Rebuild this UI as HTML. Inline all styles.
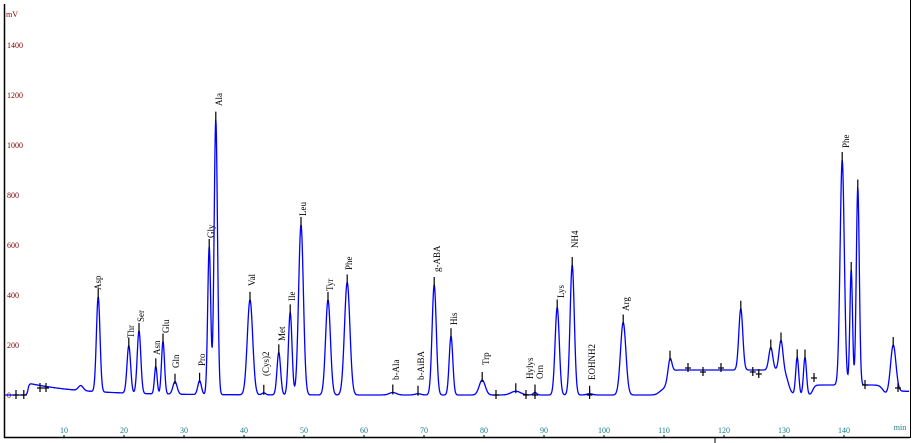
<!DOCTYPE html><html><head><style>body{margin:0;background:#fff}svg{display:block}text{font-family:"Liberation Serif",serif}</style></head><body>
<svg id="s" width="915" height="443" xmlns="http://www.w3.org/2000/svg">
<line x1="4.5" y1="4" x2="4.5" y2="438" stroke="#000" stroke-width="1.5"/>
<line x1="4" y1="437.5" x2="910" y2="437.5" stroke="#000" stroke-width="1.5"/>
<line x1="910.5" y1="0" x2="910.5" y2="438" stroke="#000" stroke-width="1"/>
<line x1="715" y1="438" x2="715" y2="443" stroke="#000"/>
<text x="6" y="17" font-size="8" fill="#800000">mV</text>
<g font-size="8" fill="#800000">
<text x="7" y="398">0</text><text x="7" y="348">200</text><text x="7" y="298">400</text><text x="7" y="248">600</text><text x="7" y="198">800</text><text x="7" y="148">1000</text><text x="7" y="98">1200</text><text x="7" y="48">1400</text></g>
<g font-size="8" fill="#1a7a8a" text-anchor="middle" id="xl"></g>
<path id="p" fill="none" stroke="#0000ff" stroke-width="1.3"/>
<g id="mk" stroke="#000" stroke-width="1.2"></g>
<g id="lb" font-size="9" fill="#000"></g>
</svg>
<script>
var X=t=>4+6*t,Y=v=>395-v*0.25;
var S=(t,a,w)=>1/(1+Math.exp(-(t-a)/w));
var pk=[[15.7,380,.3],[20.8,190,.3],[22.5,250,.3],[25.3,110,.22],[26.5,210,.25],[28.5,50,.35],[32.6,55,.3],[34.2,590,.25],[35.3,1100,.28],[41,380,.45],[43.3,8,.3],[45.8,170,.3],[47.7,330,.3],[49.5,680,.4],[54,380,.4],[57.2,450,.45],[64.8,10,.6],[69,5,.5],[71.7,440,.35],[74.5,235,.3],[79.7,60,.5],[85.3,15,.8],[88.5,10,.3],[92.2,350,.35],[94.7,520,.35],[97.6,5,.5],[103.2,290,.45],[111,60,.3],[122.8,245,.33],[127.8,90,.33],[129.5,120,.33],[132.2,150,.25],[133.5,150,.25],[139.7,900,.35],[141.2,460,.22],[142.3,790,.25],[148.2,190,.45]];
function base(t){var b=0;
 b+=45*S(t,4,0.1)*Math.exp(-Math.max(0,t-4.5)/9);
 b+=20*Math.exp(-Math.pow((t-12.8)/0.4,2)/2);
 b+=100*S(t,110.5,0.3)*(1-S(t,130.7,0.3));
 b+=15*Math.exp(-Math.pow((t-109.7)/0.6,2)/2);
 b+=40*S(t,134.8,0.2)*(1-S(t,146.5,0.3));
 b+=15*S(t,148,0.3);
 return b;}
function val(t){var v=base(t);pk.forEach(p=>{v+=p[1]*Math.exp(-Math.pow((t-p[0])/p[2],2)/2)});return v;}
var d="";for(var t=0.2;t<=150.9;t+=0.05){d+=(d?"L":"M")+X(t).toFixed(1)+" "+Y(val(t)).toFixed(1)}
document.getElementById("p").setAttribute("d",d);
var xl="";for(var i=10;i<=140;i+=10)xl+='<text x="'+X(i)+'" y="433">'+i+'</text><line x1="'+X(i)+'" y1="435" x2="'+X(i)+'" y2="438" stroke="#000"/>';
xl+='<text x="900" y="430">min</text>';document.getElementById("xl").innerHTML=xl;
var mk="";pk.forEach(p=>{var y=Y(val(p[0]))-1;mk+='<line x1="'+X(p[0])+'" y1="'+(y-7)+'" x2="'+X(p[0])+'" y2="'+(y+3)+'"/>'});
[[2,395],[3.3,395],[6,388],[7,388],[82,395],[87,395],[88.5,395],[97.6,395],[114,368],[116.5,372],[119.5,368],[124.8,372],[125.8,374],[135,378],[143.5,385],[149,388]].forEach(q=>{mk+='<line x1="'+X(q[0])+'" y1="'+(q[1]-5)+'" x2="'+X(q[0])+'" y2="'+(q[1]+4)+'"/>'+'<line x1="'+(X(q[0])-3)+'" y1="'+q[1]+'" x2="'+(X(q[0])+3)+'" y2="'+q[1]+'"/>'});
document.getElementById("mk").innerHTML=mk;
var L=[["Asp",98,290],["Thr",131,338],["Ser",141,322],["Asn",157,355],["Glu",166,333],["Gln",176,368],["Pro",202,366],["Gly",211,238],["Ala",219,106],["Val",252,286],["(Cys)2",266,376],["Met",282,341],["Ile",292,301],["Leu",303,216],["Tyr",330,291],["Phe",349,270],["b-Ala",396,380],["b-AiBA",421,380],["g-ABA",437,272],["His",454,325],["Trp",486,365],["Hylys",530,379],["Orn",540,379],["Lys",561,298],["NH4",575,248],["EOHNH2",592,380],["Arg",626,311],["Phe",846,148]];
var h="";L.forEach(l=>{h+='<text transform="translate('+(l[1]+3)+','+l[2]+') rotate(-90)">'+l[0]+'</text>'});
document.getElementById("lb").innerHTML=h;
</script></body></html>
